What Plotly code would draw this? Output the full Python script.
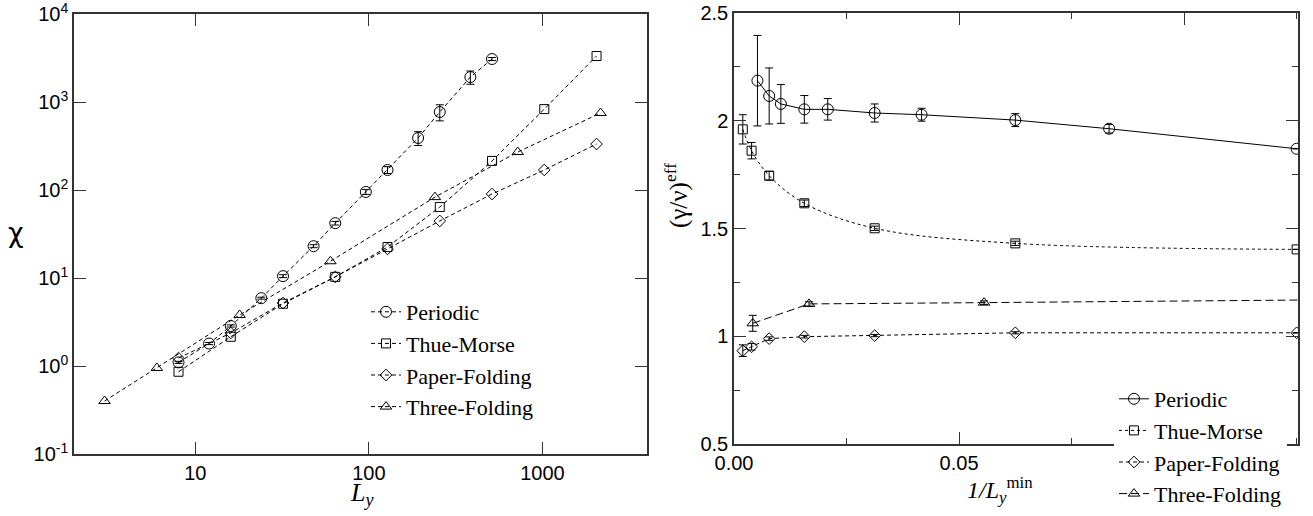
import plotly.graph_objects as go

# ---------------- Left panel data (chi vs L_y) ----------------
L_per = [8, 12, 16, 24, 32, 48, 64, 96, 128, 192, 256, 384, 512]
chi_per = [1.1, 1.8, 2.85, 5.9, 10.5, 23, 42, 95, 169, 390, 770, 1920, 3080]
chi_per_err = [0.03, 0.05, 0.08, 0.15, 0.4, 0.9, 2, 6, 15, 70, 160, 330, 120]

L_tm = [8, 16, 32, 64, 128, 256, 512, 1024, 2048]
chi_tm = [0.86, 2.15, 5.1, 10.3, 22.5, 64, 214, 830, 3330]

L_pf = [8, 16, 32, 64, 128, 256, 512, 1024, 2048]
chi_pf = [1.23, 2.37, 5.2, 10.3, 21.4, 44.5, 90, 169, 333]

L_tf = [3, 6, 18, 60, 240, 720, 2160]
chi_tf = [0.40, 0.95, 3.8, 15.5, 83, 270, 750]

# ---------------- Right panel data ((gamma/nu)^eff vs 1/L_y^min) ----------------
Lmin_per = [192, 128, 96, 64, 48, 32, 24, 16, 12, 8]
g_per = [2.186, 2.115, 2.078, 2.053, 2.053, 2.036, 2.028, 2.003, 1.963, 1.870]
g_per_err = [0.21, 0.13, 0.09, 0.064, 0.05, 0.042, 0.03, 0.03, 0.02, 0.0]

Lmin_tm = [512, 256, 128, 64, 32, 16, 8]
g_tm = [1.96, 1.861, 1.745, 1.617, 1.501, 1.431, 1.403]
g_tm_err = [0.068, 0.038, 0.02, 0.015, 0.01, 0.01, 0.0]

Lmin_pf = [512, 256, 128, 64, 32, 16, 8]
g_pf = [0.933, 0.951, 0.989, 0.998, 1.003, 1.016, 1.016]
g_pf_err = [0.027, 0.015, 0.008, 0.006, 0.005, 0.005, 0.0]

Lmin_tf = [240, 60, 18, 6]
g_tf = [1.06, 1.150, 1.156, 1.175]
g_tf_err = [0.037, 0.01, 0.008, 0.0]

names = ["Periodic", "Thue-Morse", "Paper-Folding", "Three-Folding"]
symbols = ["circle-open", "square-open", "diamond-open", "triangle-up-open"]
msizes = [11, 9, 9, 10]

# page body margin is removed by a post script, so the figure fills the window
W, H, OFF = 1313, 516, 0


def X(px):
    return (px - OFF) / W


def Y(py):
    return 1 - (py - OFF) / H


fig = go.Figure()

left_sets = [(L_per, chi_per, chi_per_err), (L_tm, chi_tm, None),
             (L_pf, chi_pf, None), (L_tf, chi_tf, None)]
for i, (xs, ys, es) in enumerate(left_sets):
    fig.add_trace(go.Scatter(
        x=xs, y=ys, mode="lines+markers", name=names[i],
        line=dict(color="black", width=1, dash="4px,3px"),
        marker=dict(symbol=symbols[i], size=msizes[i], color="black",
                    line=dict(width=1, color="black")),
        error_y=dict(type="data", array=es, color="black", thickness=1, width=4,
                     visible=es is not None),
        xaxis="x", yaxis="y", legend="legend"))

right_sets = [(Lmin_per, g_per, g_per_err, "solid"),
              (Lmin_tm, g_tm, g_tm_err, "dot"),
              (Lmin_pf, g_pf, g_pf_err, "4px,3px"),
              (Lmin_tf, g_tf, g_tf_err, "8px,4px")]
for i, (Ls, ys, es, dash) in enumerate(right_sets):
    xs = [1.0 / L for L in Ls]
    fig.add_trace(go.Scatter(
        x=xs, y=ys, mode="lines+markers", name=names[i],
        line=dict(color="black", width=1, dash=dash,
                  shape="spline" if i == 1 else "linear"),
        marker=dict(symbol=symbols[i], size=msizes[i], color="black",
                    line=dict(width=1, color="black")),
        error_y=dict(type="data", array=es, color="black", thickness=1, width=4),
        xaxis="x2", yaxis="y2", legend="legend2"))

axcommon = dict(showline=True, linecolor="#333", linewidth=1.5, mirror="ticks",
                ticks="inside", ticklen=12, tickcolor="#333", tickwidth=1,
                showgrid=False, zeroline=False, automargin=False,
                ticklabeloverflow="allow",
                tickfont=dict(family="Liberation Sans, Arial", size=20, color="black"))

serif = "Liberation Serif, Times New Roman"
fig.update_layout(
    width=W, height=H, margin=dict(l=0, r=0, t=0, b=0, autoexpand=False),
    paper_bgcolor="white", plot_bgcolor="white",
    xaxis=dict(type="log", range=[0.301, 3.602], domain=[X(74), X(647)],
               tickvals=[10, 100, 1000], ticktext=["10", "100", "1000"],
               anchor="y", **axcommon),
    yaxis=dict(type="log", range=[-1, 4], domain=[Y(454), Y(14)],
               tickvals=[0.1, 1, 10, 100, 1000, 10000],
               ticktext=["10<sup>-1</sup>", "10<sup>0</sup>", "10<sup>1</sup>",
                         "10<sup>2</sup>", "10<sup>3</sup>", "10<sup>4</sup>"],
               anchor="x", **axcommon),
    xaxis2=dict(range=[0, 0.1253], domain=[X(734), X(1298)], dtick=0.05,
                tickformat=".2f", anchor="y2",
                minor=dict(ticks="inside", ticklen=6, dtick=0.025, tickcolor="#333"),
                **axcommon),
    yaxis2=dict(range=[0.5, 2.5], domain=[Y(444), Y(13)], dtick=0.5,
                anchor="x2",
                minor=dict(ticks="inside", ticklen=6, dtick=0.25, tickcolor="#333"),
                **axcommon),
    legend=dict(x=X(366), y=Y(291), xanchor="left", yanchor="top",
                bgcolor="rgba(0,0,0,0)", borderwidth=0,
                font=dict(family=serif, size=22, color="black"),
                tracegroupgap=0, itemwidth=30),
    legend2=dict(x=X(1114), y=Y(378), xanchor="left", yanchor="top",
                 bgcolor="white", borderwidth=0,
                 font=dict(family=serif, size=22, color="black"),
                 tracegroupgap=0, itemwidth=30),
    showlegend=True,
    annotations=[
        dict(text="χ", x=X(16), y=Y(232), xref="paper", yref="paper",
             showarrow=False, xanchor="center", yanchor="middle",
             font=dict(family="DejaVu Sans", size=27, color="black")),
        dict(text="<i>L</i><sub><i>y</i></sub>", x=X(362), y=Y(494),
             xref="paper", yref="paper", showarrow=False, xanchor="center", yanchor="middle",
             font=dict(family=serif, size=26, color="black")),
        dict(text="(γ/ν)<sup>eff</sup>", x=X(676), y=Y(196),
             xref="paper", yref="paper", showarrow=False, textangle=-90,
             xanchor="center", yanchor="middle",
             font=dict(family=serif, size=25, color="black")),
        dict(text="<i>1/L</i><sub><i>y</i></sub><sup>min</sup>", x=X(1000), y=Y(490),
             xref="paper", yref="paper", showarrow=False, xanchor="center", yanchor="middle",
             font=dict(family=serif, size=24, color="black")),
    ],
)

fig.write_html("out.html", config={"displayModeBar": False},
               post_script="document.body.style.margin='0';document.body.style.overflow='hidden';")
